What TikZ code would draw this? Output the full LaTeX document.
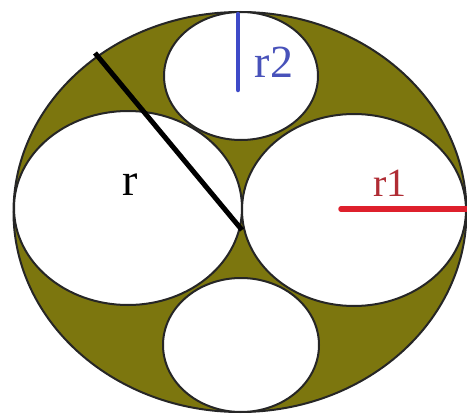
\documentclass[tikz,border=0pt]{standalone}
\usepackage{fontspec}
\setmainfont{Liberation Serif}
\usetikzlibrary{shapes.geometric}
\definecolor{olivefill}{RGB}{124,118,14}
\definecolor{rblue}{RGB}{62,74,200}
\definecolor{rred}{RGB}{222,32,44}
\definecolor{rtext}{RGB}{176,44,52}
\definecolor{r2text}{RGB}{72,82,186}
\begin{document}
\begin{tikzpicture}[x=1pt,y=-1pt,
  rim/.style={ellipse,draw=black!85,line width=2pt,inner sep=0pt},
  hole/.style={rim,fill=white},
  lbl/.style={inner sep=0pt,font=\fontsize{#1}{#1}\selectfont}]
\useasboundingbox (0,0) rectangle (467,415);
\node[rim,fill=olivefill,minimum width=453pt,minimum height=400pt] (outer) at (240,212) {};
\node[hole,minimum width=228pt,minimum height=194pt] (left) at (128,208) {};
\node[hole,minimum width=224pt,minimum height=192pt] (right) at (354,210) {};
\node[hole,minimum width=154pt,minimum height=128pt] (top) at (241,76) {};
\node[hole,minimum width=156pt,minimum height=134pt] (bottom) at (241,345) {};
\coordinate (rs) at (95,53);
\coordinate (rc) at (242,230);
\draw[line width=5pt,black] (rs) -- (rc);
\coordinate (bs) at (238,14);
\coordinate (be) at (238,90);
\draw[line width=4.5pt,rblue,line cap=round] (bs) -- (be);
\coordinate (ls) at (341,209);
\coordinate (le) at (467,209);
\draw[line width=5.5pt,rred,line cap=round] (ls) -- (le);
\node[lbl=46,text=r2text] (tr2) at (274,62) {r2};
\node[lbl=40,text=rtext] (tr1) at (390,183) {r1};
\node[lbl=46,text=black] (tr) at (130,185) {r};
\end{tikzpicture}
\end{document}
